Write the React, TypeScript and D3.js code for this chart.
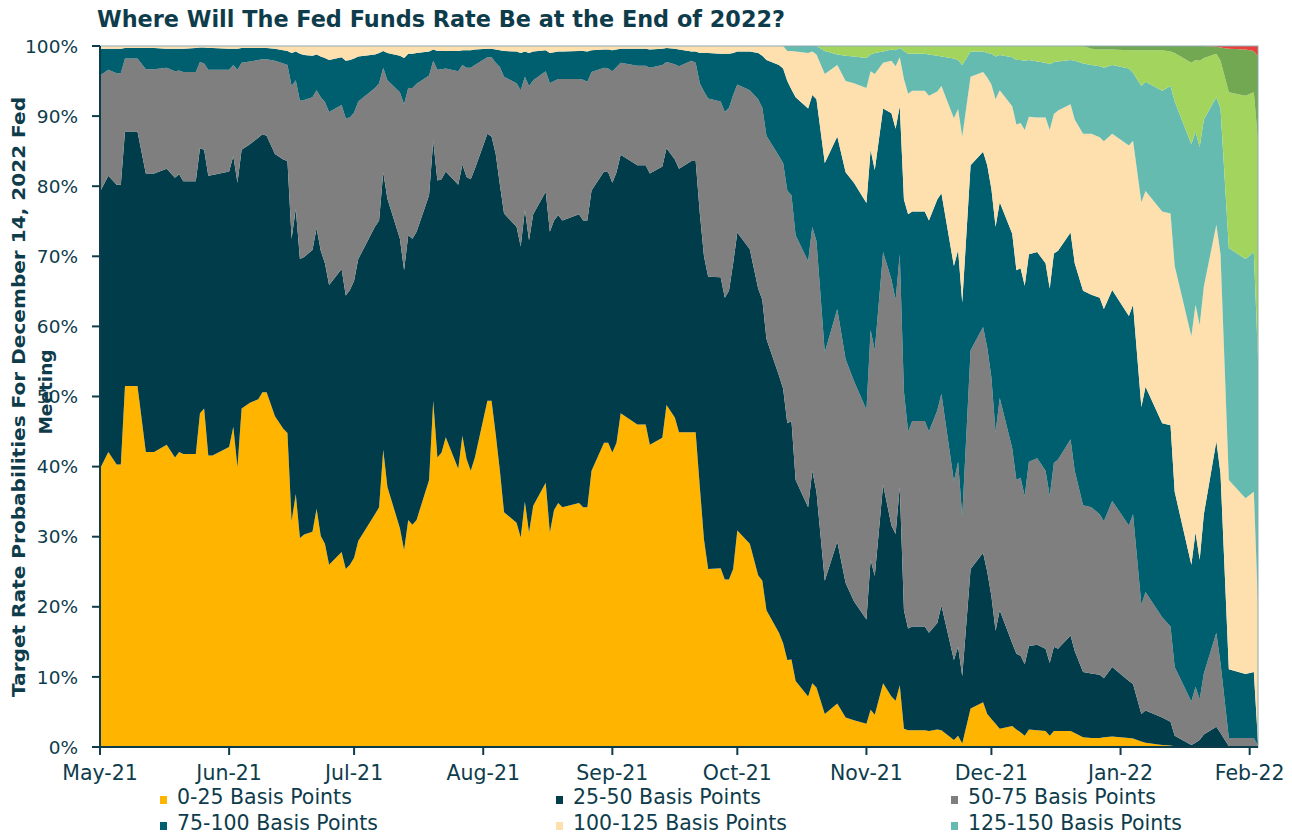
import React from "react";
import * as d3 from "d3";

// ---- data (probabilities in %) ----
const dates = [
  "2021-05-01","2021-05-03","2021-05-05","2021-05-06","2021-05-07","2021-05-10","2021-05-12","2021-05-14","2021-05-17","2021-05-19","2021-05-20","2021-05-21","2021-05-24","2021-05-25","2021-05-26","2021-05-27","2021-05-28",
  "2021-06-01","2021-06-02","2021-06-03","2021-06-04","2021-06-06","2021-06-08","2021-06-09","2021-06-10","2021-06-12","2021-06-14","2021-06-15","2021-06-16","2021-06-17","2021-06-18","2021-06-19","2021-06-21","2021-06-22","2021-06-23","2021-06-24","2021-06-25","2021-06-28","2021-06-29","2021-06-30",
  "2021-07-01","2021-07-02","2021-07-06","2021-07-07","2021-07-08","2021-07-09","2021-07-12","2021-07-13","2021-07-14","2021-07-15","2021-07-16","2021-07-19","2021-07-20","2021-07-21","2021-07-22","2021-07-23","2021-07-26","2021-07-27","2021-07-28","2021-07-29","2021-07-30",
  "2021-08-02","2021-08-03","2021-08-04","2021-08-05","2021-08-06","2021-08-09","2021-08-10","2021-08-11","2021-08-12","2021-08-13","2021-08-16","2021-08-17","2021-08-18","2021-08-19","2021-08-20","2021-08-24","2021-08-25","2021-08-26","2021-08-27","2021-08-30","2021-08-31",
  "2021-09-01","2021-09-02","2021-09-03","2021-09-07","2021-09-09","2021-09-10","2021-09-13","2021-09-14","2021-09-16","2021-09-17","2021-09-20","2021-09-21","2021-09-22","2021-09-23","2021-09-24","2021-09-27","2021-09-28","2021-09-29","2021-09-30",
  "2021-10-01","2021-10-04","2021-10-06","2021-10-07","2021-10-08","2021-10-11","2021-10-12","2021-10-13","2021-10-14","2021-10-15","2021-10-18","2021-10-19","2021-10-20","2021-10-22","2021-10-25","2021-10-27","2021-10-29",
  "2021-11-01","2021-11-02","2021-11-03","2021-11-05","2021-11-07","2021-11-08","2021-11-09","2021-11-10","2021-11-11","2021-11-12","2021-11-15","2021-11-16","2021-11-18","2021-11-19","2021-11-22","2021-11-23","2021-11-24","2021-11-26","2021-11-29","2021-11-30",
  "2021-12-01","2021-12-02","2021-12-03","2021-12-06","2021-12-07","2021-12-08","2021-12-09","2021-12-10","2021-12-12","2021-12-14","2021-12-15","2021-12-16","2021-12-17","2021-12-20","2021-12-21","2021-12-23","2021-12-25","2021-12-27","2021-12-28","2021-12-30",
  "2022-01-03","2022-01-04","2022-01-06","2022-01-07","2022-01-11","2022-01-13","2022-01-14","2022-01-18","2022-01-19","2022-01-20","2022-01-21","2022-01-24","2022-01-25","2022-01-27","2022-01-31","2022-02-02","2022-02-03",
];

const bp0_25 = [
  39.7,42.1,40.3,40.3,51.5,51.5,42.1,42.1,43.1,41.3,42.1,41.8,41.8,47.6,48.3,41.6,41.6,
  42.8,45.7,39.9,48.3,49.1,49.6,50.6,50.6,47.2,45.4,44.8,32.2,36.1,29.8,30.3,30.7,34.0,30.1,29.0,26.0,27.8,25.4,26.0,
  27.0,29.4,33.2,34.2,42.4,37.1,31.2,28.1,32.4,31.7,32.4,38.1,49.4,41.3,42.0,44.2,39.7,44.4,41.1,39.4,41.3,
  49.4,49.4,44.6,39.4,33.5,32.0,29.9,35.0,30.6,34.4,37.7,30.6,33.8,34.8,34.2,34.8,34.2,34.2,39.4,43.4,43.4,
  42.0,43.4,47.6,46.0,46.0,43.1,44.1,48.8,47.0,44.9,44.9,44.9,37.1,29.6,25.4,25.5,23.9,23.9,25.4,
  30.9,29.0,24.5,23.7,19.5,16.3,14.8,12.4,12.5,9.4,7.2,9.1,8.5,4.7,6.2,4.2,3.8,
  3.3,5.3,4.6,9.1,7.2,6.6,8.8,2.6,2.4,2.4,2.4,2.3,2.5,2.4,1.0,1.6,0.5,5.5,6.4,4.7,
  4.0,3.3,2.6,3.0,2.5,2.1,1.6,2.5,2.4,2.3,1.6,2.3,2.3,2.3,2.0,1.4,1.3,1.3,1.4,1.5,
  1.3,1.2,0.8,0.6,0.3,0.2,0.1,0,0,0,0,0,0,0,0,0,0,
];

const bp25_50 = [
  39.5,39.4,39.9,39.9,36.3,36.3,39.7,39.7,39.4,39.9,39.6,38.9,38.9,37.8,36.9,39.9,40.0,
  39.3,38.6,40.6,36.9,36.9,37.3,36.8,36.6,37.4,38.4,38.8,40.3,40.7,39.8,39.6,40.2,40.0,40.7,40.0,39.9,40.4,39.0,39.2,
  39.5,40.2,41.0,40.9,39.6,41.1,41.3,39.9,40.6,40.8,41.1,40.6,37.1,39.5,39.0,37.9,40.5,38.7,40.2,41.6,41.2,
  38.1,37.7,40.0,40.8,42.6,42.2,41.5,41.6,41.7,41.6,41.5,42.9,41.3,41.1,40.9,41.2,40.9,40.9,40.0,38.7,38.6,
  38.5,38.6,36.9,37.0,37.0,38.7,38.7,36.6,36.8,37.6,38.7,38.7,39.0,40.4,41.7,41.5,40.2,41.2,43.6,
  42.5,42.0,40.9,40.1,38.7,36.7,36.3,33.8,34.0,28.7,27.0,30.3,27.9,19.0,23.1,19.2,17.0,
  14.9,21.4,19.8,28.3,24.4,23.8,28.3,16.9,14.5,14.8,14.8,14.0,15.2,17.8,11.4,12.7,9.6,19.9,21.3,20.3,
  17.5,13.3,16.9,11.8,10.8,10.9,10.2,11.9,12.2,11.7,10.4,12.0,11.7,13.6,11.7,9.3,9.2,9.0,8.4,9.9,
  8.1,7.8,3.9,4.6,3.9,3.4,1.5,0.3,0.6,1.0,1.8,2.9,2.0,0.1,0.1,0.1,0,
];

const bp50_75 = [
  16.6,15.1,15.9,15.9,10.4,10.4,14.9,14.9,14.4,15.2,14.8,15.6,15.6,12.3,12.3,15.1,15.0,
  14.5,13.0,16.1,12.4,11.8,11.1,10.7,10.9,13.3,13.7,13.7,21.8,18.3,22.6,22.4,21.8,19.7,21.9,23.0,24.7,23.4,25.3,24.6,
  24.0,22.5,19.8,19.6,14.9,16.9,20.9,23.7,21.0,21.5,21.1,17.1,11.4,15.8,15.7,14.7,16.2,14.2,15.6,15.9,14.8,
  10.9,11.3,13.0,16.8,19.5,20.5,22.3,19.0,22.0,19.1,17.2,21.2,19.9,19.4,20.2,19.3,20.1,19.8,16.9,14.8,14.8,
  15.9,15.0,13.1,14.2,14.2,15.1,14.5,12.3,13.6,14.6,14.3,14.0,18.6,23.5,25.4,25.1,26.5,26.1,24.0,
  21.1,22.7,27.0,27.4,29.0,31.3,32.2,33.2,32.2,34.9,35.1,34.8,35.8,32.6,33.2,31.9,31.4,
  29.9,32.8,32.2,33.2,35.1,33.4,33.2,31.2,28.1,29.3,29.3,28.7,30.3,30.2,25.5,26.4,22.8,31.2,32.2,32.0,
  31.2,28.3,30.3,27.8,24.8,25.4,24.0,26.3,26.6,25.4,23.8,26.2,27.0,28.0,25.7,23.8,23.7,22.9,22.4,23.7,
  22.2,24.2,15.6,16.9,14.3,13.6,9.8,6.2,8.0,5.8,8.7,13.4,10.0,1.2,1.2,1.2,0.2,
];

const bp75_100 = [
  3.8,3.0,3.5,3.5,1.5,1.5,3.0,3.0,2.7,3.2,3.1,3.3,3.4,2.1,2.3,3.1,3.1,
  3.0,2.3,3.0,2.1,1.9,1.7,1.6,1.6,1.7,1.9,2.0,4.7,4.1,6.7,6.4,5.9,5.1,5.8,6.3,7.4,6.8,8.2,8.2,
  7.7,6.4,4.8,4.3,2.4,3.9,5.2,6.6,4.9,4.9,4.4,3.4,1.6,2.7,2.6,2.5,2.9,2.1,2.5,2.5,2.2,
  1.2,1.2,1.9,2.4,3.7,4.5,5.3,3.6,4.7,4.1,3.0,4.3,4.1,3.9,3.9,4.0,4.1,4.3,3.1,2.6,2.7,
  3.0,2.5,2.0,2.4,2.4,2.6,2.3,2.0,2.2,2.4,1.3,1.6,4.3,5.5,6.5,6.8,8.3,7.7,6.0,
  4.7,5.5,6.6,7.4,10.8,13.0,13.5,15.6,15.1,19.7,21.8,18.8,20.2,27.0,24.6,26.7,28.3,
  29.5,25.7,25.7,20.5,23.7,24.4,21.1,27.4,31.0,29.9,29.9,30.1,30.1,28.6,30.7,30.2,30.5,26.4,25.0,26.0,
  26.9,29.3,27.9,30.6,29.9,29.9,30.0,29.6,29.4,29.6,29.6,29.9,29.8,29.5,29.6,30.6,30.3,30.9,30.3,30.1,
  29.9,29.9,28.2,29.3,27.7,28.7,25.0,19.5,22.0,19.9,22.7,27.3,27.0,9.8,9.1,9.4,0.5,
];

const bp100_125 = [
  0.4,0.4,0.4,0.4,0.3,0.3,0.3,0.3,0.4,0.4,0.4,0.4,0.3,0.2,0.2,0.3,0.3,
  0.4,0.4,0.4,0.3,0.3,0.3,0.3,0.3,0.4,0.6,0.7,1.0,0.8,1.1,1.3,1.4,1.2,1.5,1.7,2.0,1.6,2.1,2.0,
  1.8,1.5,1.2,1.0,0.7,1.0,1.4,1.7,1.1,1.1,1.0,0.8,0.5,0.7,0.7,0.7,0.7,0.6,0.6,0.6,0.5,
  0.4,0.4,0.5,0.6,0.7,0.8,1.0,0.8,1.0,0.8,0.6,1.0,0.9,0.8,0.8,0.7,0.7,0.8,0.6,0.5,0.5,
  0.6,0.5,0.4,0.4,0.4,0.5,0.4,0.3,0.4,0.5,0.8,0.8,1.0,1.0,1.0,1.1,1.1,1.1,1.0,
  0.8,0.8,1.0,1.4,2.0,2.7,3.2,4.3,5.5,6.5,7.9,6.2,6.4,12.7,10.2,13.0,14.2,
  16.4,11.2,13.7,6.5,7.5,8.9,7.0,17.2,17.2,17.2,17.2,17.8,15.4,15.3,21.1,20.1,23.7,12.6,11.4,12.5,
  14.9,18.2,16.0,18.2,20.8,20.7,22.2,19.6,19.2,20.8,22.6,19.9,20.0,18.3,20.5,22.4,23.0,22.9,23.9,22.3,
  24.3,23.4,29.2,27.9,30.2,30.2,32.2,32.6,32.5,33.5,32.5,30.9,31.3,27.0,25.1,25.7,19.5,
];

const bp125_150 = [
  0,0,0,0,0,0,0,0,0,0,0,0,0,0,0,0,0,
  0,0,0,0,0,0,0,0,0,0,0,0,0,0,0,0,0,0,0,0,0,0,0,
  0,0,0,0,0,0,0,0,0,0,0,0,0,0,0,0,0,0,0,0,0,
  0,0,0,0,0,0,0,0,0,0,0,0,0,0,0,0,0,0,0,0,0,
  0,0,0,0,0,0,0,0,0,0,0,0,0,0,0,0,0,0,0,
  0,0,0,0,0,0,0,0.7,0.7,0.8,1.0,0.8,1.2,3.3,1.5,3.6,3.8,
  4.3,2.4,3.0,1.6,1.6,2.3,1.3,4.0,5.7,5.3,5.3,5.9,5.1,4.2,8.5,7.0,10.2,3.6,2.9,3.5,
  4.4,6.1,5.0,7.0,9.2,9.0,9.9,8.1,8.0,7.8,9.4,7.4,7.0,6.3,8.4,10.0,9.8,10.1,10.5,9.8,
  11.0,9.7,16.6,15.6,17.2,18.2,23.5,27.4,24.7,25.4,23.8,18.2,20.8,33.1,34.1,34.2,35.1,
];

const bp150_175 = [
  0,0,0,0,0,0,0,0,0,0,0,0,0,0,0,0,0,
  0,0,0,0,0,0,0,0,0,0,0,0,0,0,0,0,0,0,0,0,0,0,0,
  0,0,0,0,0,0,0,0,0,0,0,0,0,0,0,0,0,0,0,0,0,
  0,0,0,0,0,0,0,0,0,0,0,0,0,0,0,0,0,0,0,0,0,
  0,0,0,0,0,0,0,0,0,0,0,0,0,0,0,0,0,0,0,
  0,0,0,0,0,0,0,0,0,0,0,0,0,0.7,1.2,1.4,1.5,
  1.7,1.2,1.0,0.8,0.5,0.6,0.3,0.7,1.1,1.1,1.1,1.2,1.4,1.5,1.8,2.0,2.7,0.8,0.8,1.0,
  1.1,1.5,1.3,1.6,2.0,2.0,2.1,2.0,2.2,2.4,2.6,2.3,2.2,2.0,2.1,2.5,2.3,2.4,2.6,2.2,
  2.6,3.2,5.1,4.5,5.8,4.9,6.9,11.6,10.2,12.3,8.8,6.2,6.8,22.2,23.3,22.8,31.2,
];

const bp175_200 = [
  0,0,0,0,0,0,0,0,0,0,0,0,0,0,0,0,0,
  0,0,0,0,0,0,0,0,0,0,0,0,0,0,0,0,0,0,0,0,0,0,0,
  0,0,0,0,0,0,0,0,0,0,0,0,0,0,0,0,0,0,0,0,0,
  0,0,0,0,0,0,0,0,0,0,0,0,0,0,0,0,0,0,0,0,0,
  0,0,0,0,0,0,0,0,0,0,0,0,0,0,0,0,0,0,0,
  0,0,0,0,0,0,0,0,0,0,0,0,0,0,0,0,0,
  0,0,0,0,0,0,0,0,0,0,0,0,0,0,0,0,0,0,0,0,
  0,0,0,0,0,0,0,0,0,0,0,0,0,0,0,0,0.4,0.5,0.5,0.5,
  0.6,0.6,0.6,0.6,0.6,0.8,1.0,2.4,2.0,2.1,1.7,1.0,1.9,6.2,6.6,5.9,12.0,
];

const bp200_225 = [
  0,0,0,0,0,0,0,0,0,0,0,0,0,0,0,0,0,
  0,0,0,0,0,0,0,0,0,0,0,0,0,0,0,0,0,0,0,0,0,0,0,
  0,0,0,0,0,0,0,0,0,0,0,0,0,0,0,0,0,0,0,0,0,
  0,0,0,0,0,0,0,0,0,0,0,0,0,0,0,0,0,0,0,0,0,
  0,0,0,0,0,0,0,0,0,0,0,0,0,0,0,0,0,0,0,
  0,0,0,0,0,0,0,0,0,0,0,0,0,0,0,0,0,
  0,0,0,0,0,0,0,0,0,0,0,0,0,0,0,0,0,0,0,0,
  0,0,0,0,0,0,0,0,0,0,0,0,0,0,0,0,0,0,0,0,
  0,0,0,0,0,0,0,0,0,0,0,0.1,0.2,0.4,0.5,0.7,1.5,
];

const seriesNames = [
  "0-25 Basis Points",
  "25-50 Basis Points",
  "50-75 Basis Points",
  "75-100 Basis Points",
  "100-125 Basis Points",
  "125-150 Basis Points",
  "150-175 Basis Points",
  "175-200 Basis Points",
  "200-225 Basis Points",
];
const seriesValues = [bp0_25, bp25_50, bp50_75, bp75_100, bp100_125, bp125_150, bp150_175, bp175_200, bp200_225];
const legendCount = 6; // the legend in the source shows the first six buckets
const yTicks = [0, 10, 20, 30, 40, 50, 60, 70, 80, 90, 100];
const title = "Where Will The Fed Funds Rate Be at the End of 2022?";
const yTitleLines = ["Target Rate Probabilities For December 14, 2022 Fed", "Meeting"];

// ---- styles ----
const COLORS = ["#FFB500", "#003C4A", "#7F7F7F", "#005F6E", "#FEDFAE", "#66BBB0", "#A3D55E", "#73A853", "#E8413C"];
const TEXT = "#0E3C4B";
const FONT = "'DejaVu Sans', sans-serif";

const W = 1292, H = 835;
const L = 100, R = 1258, T = 46, B = 747;

export default function App() {
  const parse = d3.timeParse("%Y-%m-%d");
  const keys = seriesNames;
  const table = dates.map((d, i) => {
    const row: any = { date: parse(d) };
    keys.forEach((k, j) => (row[k] = seriesValues[j][i] ?? 0));
    return row;
  });

  const x = d3.scaleTime().domain([new Date(2021, 4, 1), new Date(2022, 1, 3)]).range([L, R]);
  const y = d3.scaleLinear().domain([0, 100]).range([B, T]);

  const stacked = d3.stack<any>().keys(keys)(table);
  const area = d3
    .area<any>()
    .x((d) => x(d.data.date))
    .y0((d) => y(d[0]))
    .y1((d) => y(Math.min(100, d[1])))
    .curve(d3.curveLinear);

  const monthTicks = d3.timeMonth.range(new Date(2021, 4, 1), new Date(2022, 1, 2));
  const fmt = d3.timeFormat("%b-%y");

  const legendCols = [160, 556, 951];
  const legendBaselines = [804, 830];

  return (
    <svg width={W} height={H} style={{ position: "absolute", left: 0, top: 0, background: "#fff" }} fontFamily={FONT}>
      <defs>
        <clipPath id="plot">
          <rect x={L} y={T} width={R - L} height={B - T} />
        </clipPath>
      </defs>

      <text x={97} y={27} fill={TEXT} fontSize={22.5} fontWeight="bold" textLength={688} lengthAdjust="spacingAndGlyphs">
        {title}
      </text>

      <g clipPath="url(#plot)">
        {stacked.map((s, i) => (
          <path key={s.key} d={area(s) || ""} fill={COLORS[i]} />
        ))}
      </g>

      {/* plot frame */}
      <rect x={L} y={T} width={R - L} height={B - T} fill="none" stroke="#8FA9AF" strokeWidth={1} />

      {/* y axis */}
      <line x1={L} x2={L} y1={T} y2={B} stroke={TEXT} strokeWidth={2} />
      {yTicks.map((t) => (
        <g key={t}>
          <line x1={L - 8} x2={L} y1={y(t)} y2={y(t)} stroke={TEXT} strokeWidth={2} />
          <text x={78} y={y(t)} dy="0.36em" textAnchor="end" fill={TEXT} fontSize={18.5}>
            {t}%
          </text>
        </g>
      ))}

      {/* x axis */}
      <line x1={L} x2={R} y1={B} y2={B} stroke={TEXT} strokeWidth={2} />
      {monthTicks.map((m) => (
        <g key={+m}>
          <line x1={x(m)} x2={x(m)} y1={B} y2={B + 8} stroke={TEXT} strokeWidth={2} />
          <text x={x(m)} y={780} textAnchor="middle" fill={TEXT} fontSize={20.5}>
            {fmt(m)}
          </text>
        </g>
      ))}

      {/* y axis title */}
      <text transform="translate(25,397) rotate(-90)" textAnchor="middle" fill={TEXT} fontSize={18.5} fontWeight="bold" textLength={600} lengthAdjust="spacingAndGlyphs">
        {yTitleLines[0]}
      </text>
      <text transform="translate(52,392) rotate(-90)" textAnchor="middle" fill={TEXT} fontSize={18.5} fontWeight="bold">
        {yTitleLines[1]}
      </text>

      {/* legend */}
      {seriesNames.slice(0, legendCount).map((name, i) => {
        const cx = legendCols[i % 3];
        const by = legendBaselines[Math.floor(i / 3)];
        return (
          <g key={name}>
            <rect x={cx} y={by - 8} width={7} height={8} fill={COLORS[i]} />
            <text x={cx + 17} y={by} fill={TEXT} fontSize={20.5}>
              {name}
            </text>
          </g>
        );
      })}
    </svg>
  );
}
